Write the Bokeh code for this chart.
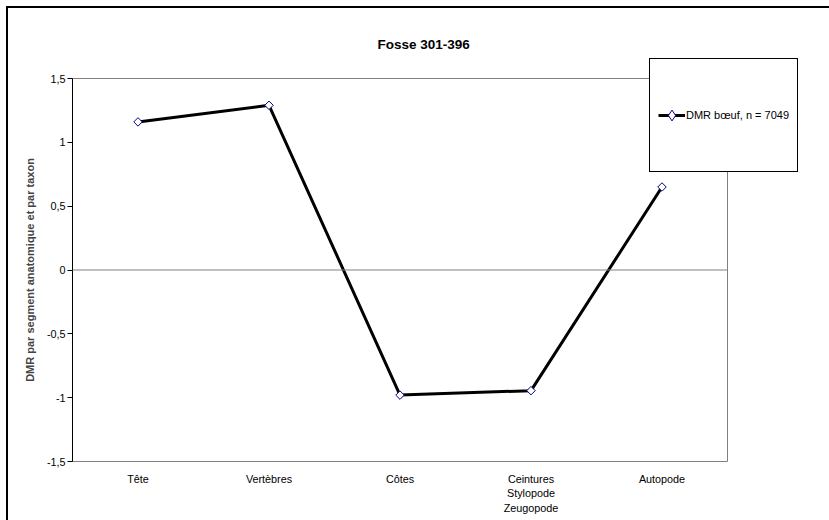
import math
from bokeh.plotting import figure
from bokeh.models import FactorRange, Range1d, Span, Legend, LegendItem, FixedTicker
from bokeh.embed import file_html
from bokeh.resources import INLINE

# ---- data ----
categories = ["Tête", "Vertèbres", "Côtes", "Ceintures\nStylopode\nZeugopode", "Autopode"]
dmr_boeuf = [1.16, 1.29, -0.98, -0.945, 0.65]
y_ticks = [-1.5, -1.0, -0.5, 0.0, 0.5, 1.0, 1.5]
y_tick_labels = ["-1,5", "-1", "-0,5", "0", "0,5", "1", "1,5"]
series_name = "DMR bœuf, n = 7049"
title_text = "Fosse 301-396"
y_label = "DMR par segment anatomique et par taxon"

FONT = "Liberation Sans"

p = figure(
    width=821, height=512,
    x_range=FactorRange(*categories, range_padding=0),
    y_range=Range1d(-1.5, 1.5),
    output_backend="svg", toolbar_location=None,
    min_border_left=64, min_border_right=101,
    min_border_top=69, min_border_bottom=59,
    styles={"outline": "2px solid black", "margin": "8px"},
)
p.background_fill_color = "white"
p.border_fill_color = "white"
p.outline_line_color = "#808080"
p.outline_line_width = 1
p.xgrid.visible = False
p.ygrid.visible = False

p.title.text = title_text
p.title.align = "left"
p.title.offset = 305
p.title.vertical_align = "bottom"
p.title.standoff = 53
p.title.text_font = FONT
p.title.text_font_style = "bold"
p.title.text_font_size = "13.5px"
p.title.text_color = "black"

# y axis
ya = p.yaxis[0]
ya.ticker = FixedTicker(ticks=y_ticks)
ya.major_label_overrides = dict(zip(y_ticks, y_tick_labels))
ya.axis_line_color = "black"
ya.major_tick_line_color = "black"
ya.major_tick_out = 5
ya.major_tick_in = 0
ya.minor_tick_line_color = None
ya.major_label_standoff = 2
ya.major_label_text_font = FONT
ya.major_label_text_font_size = "10.8px"
ya.major_label_text_color = "black"
ya.axis_label = y_label
ya.axis_label_text_font = FONT
ya.axis_label_text_font_size = "11px"
ya.axis_label_text_font_style = "bold"
ya.axis_label_standoff = 8

# x axis
xa = p.xaxis[0]
xa.axis_line_color = None
xa.major_tick_line_color = None
xa.major_tick_out = 0
xa.major_tick_in = 0
xa.major_label_standoff = 11
xa.major_label_text_font = FONT
xa.major_label_text_font_size = "10.8px"
xa.major_label_text_color = "black"
xa.major_label_text_line_height = 1.22

# zero line
p.add_layout(Span(location=0, dimension="width", line_color="#808080", line_width=1))

line_r = p.line(categories, dmr_boeuf, line_color="black", line_width=3)
pts_r = p.scatter(categories, dmr_boeuf, marker="square", angle=math.pi / 4, size=6,
                  fill_color="white", line_color="#000080", line_width=1)
# diamond used only for the legend swatch (not drawn in the plot)
leg_pts = p.scatter(categories, dmr_boeuf, marker="diamond", size=9,
                    fill_color="white", line_color="#000080", line_width=1, visible=False)

legend = Legend(
    items=[LegendItem(label=series_name, renderers=[line_r, leg_pts])],
    location=(-78, 289), margin=-260, padding=8, spacing=0,
    glyph_width=27, glyph_height=96, label_height=96, label_width=100,
    label_standoff=1,
    border_line_color="black", border_line_width=1, border_line_alpha=1,
    background_fill_color="white", background_fill_alpha=1,
    inactive_fill_alpha=0,
    label_text_font=FONT, label_text_font_size="11px", label_text_color="black",
)
p.add_layout(legend, "right")

open("out.html", "w").write(file_html(p, INLINE))
